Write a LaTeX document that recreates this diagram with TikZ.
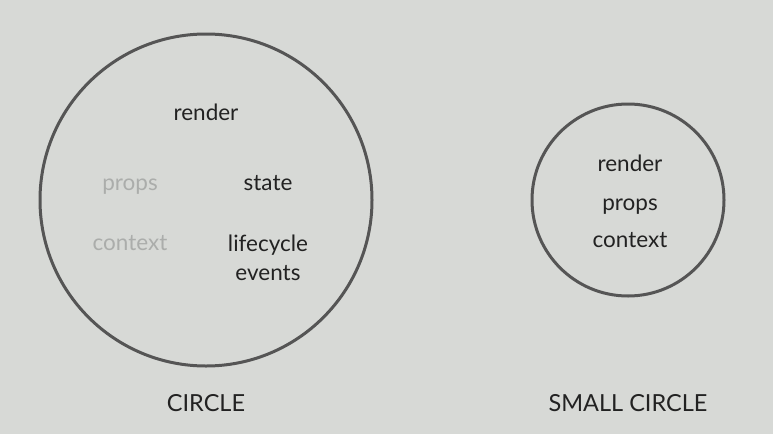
\documentclass[tikz,border=0pt]{standalone}
\usepackage{fontspec}
\setmainfont{Lato}
\definecolor{bg}{HTML}{D7D9D6}
\definecolor{ring}{HTML}{555555}
\definecolor{ink}{HTML}{222222}
\definecolor{faded}{HTML}{ABADAB}

\begin{document}
\begin{tikzpicture}[x=1pt, y=-1pt,
  every node/.style = {font=\fontsize{22.5}{29}\selectfont, text=ink, align=center},
  ring/.style = {draw=ring, line width=3pt},
  faded/.style = {text=faded},
  caption/.style = {font=\fontsize{23.5}{28}\selectfont}]
  \fill[bg] (0,0) rectangle (773,434);
  \useasboundingbox (0,0) rectangle (773,434);
  % big circle
  \draw[ring] (206,200) circle [radius=166];
  \node (render) at (206,112) {render};
  \node[faded] (props) at (130,187) {props};
  \node (state) at (268,183) {state};
  \node[faded] (context) at (130,243) {context};
  \node (lifecycle) at (268,258) {lifecycle\\events};
  \node[caption] (circle) at (206,403) {CIRCLE};
  % small circle
  \draw[ring] (628,200) circle [radius=96];
  \node (srender) at (630,163) {render};
  \node (sprops) at (630,207) {props};
  \node (scontext) at (630,240) {context};
  \node[caption] (smallcircle) at (628,403) {SMALL CIRCLE};
\end{tikzpicture}
\end{document}
